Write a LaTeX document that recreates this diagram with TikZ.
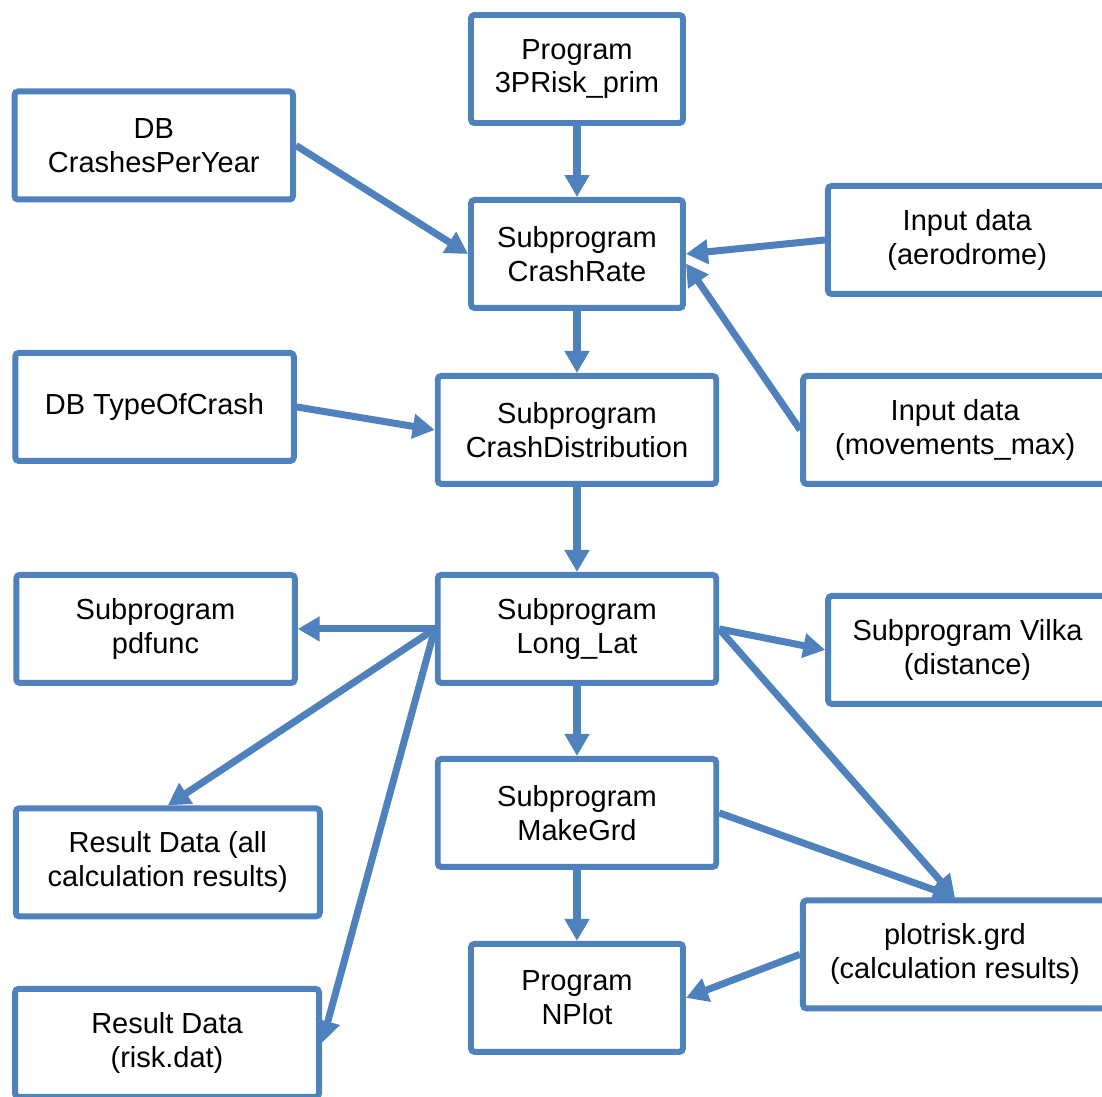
\documentclass[tikz,border=0pt]{standalone}
\usepackage{fontspec}
\setmainfont{Liberation Sans}
\usetikzlibrary{positioning, arrows.meta}
\definecolor{boxblue}{HTML}{4F81BD}

\begin{document}
\begin{tikzpicture}[
        node distance=1.4cm,
        font=\fontsize{16.5}{19.3}\selectfont,
        block/.style={rectangle, draw=boxblue, line width=3.4pt, rounded corners=2pt, fill=white, minimum width=4.24cm, minimum height=2.16cm, align=center},
        wide/.style={block, minimum width=5.57cm},
        wider/.style={block, minimum width=6.08cm},
        arrow/.style={-{Triangle[length=12.5pt, width=13.5pt]}, draw=boxblue, line width=4pt}
    ]

    \useasboundingbox (-11.54,1.38) rectangle (10.5,-20.56);
    \clip (-11.54,1.38) rectangle (10.5,-20.56);

    \node (prog3p) [block] at (0,0) {Program\\3PRisk\_prim};
    \node (crashrate) [block, below=1.42cm of prog3p] {Subprogram\\CrashRate};
    \node (crashdist) [wide, below=1.24cm of crashrate] {Subprogram\\CrashDistribution};
    \node (longlat) [wide, below=1.7cm of crashdist] {Subprogram\\Long\_Lat};
    \node (makegrd) [wide, below=1.4cm of longlat] {Subprogram\\MakeGrd};
    \node (nplot) [block, below=1.42cm of makegrd] {Program\\NPlot};

    \node (dbyear) [wide, left=3.44cm of crashrate, yshift=2.17cm] {DB\\CrashesPerYear};
    \node (aero) [wide, right=2.78cm of crashrate, yshift=0.28cm] {Input data\\(aerodrome)};
    \node (dbtype) [wide, left=2.76cm of crashdist, yshift=0.46cm] {DB TypeOfCrash};
    \node (movmax) [wider, right=1.62cm of crashdist] {Input data\\(movements\_max)};
    \node (pdfunc) [wide, left=2.74cm of longlat] {Subprogram\\pdfunc};
    \node (vilka) [wide, right=2.12cm of longlat, yshift=-0.42cm] {Subprogram Vilka\\(distance)};
    \node (resall) [wider, left=2.24cm of makegrd, yshift=-0.99cm] {Result Data (all\\calculation results)};
    \node (plotrisk) [wider, right=2.28cm of nplot, yshift=0.87cm] {plotrisk.grd\\(calculation results)};
    \node (resrisk) [wider, left=2.92cm of nplot, yshift=-0.9cm] {Result Data\\(risk.dat)};

    \draw [arrow] (prog3p) -- (crashrate);
    \draw [arrow] (dbyear.east) -- (crashrate.west);
    \draw [arrow] (aero.west) -- (crashrate.east);
    \draw [arrow] (movmax.west) -- (crashrate.-5);
    \draw [arrow] (crashrate) -- (crashdist);
    \draw [arrow] (dbtype.east) -- (crashdist.west);
    \draw [arrow] (crashdist) -- (longlat);

    \draw [arrow] (longlat.west) -- (pdfunc.east);
    \draw [arrow] (longlat.west) -- (resall.north);
    \draw [arrow] (longlat.west) -- (resrisk.east);
    \draw [arrow] (longlat.east) -- (vilka.west);
    \draw [arrow] (longlat.east) -- (plotrisk.north);
    \draw [arrow] (longlat) -- (makegrd);
    \draw [arrow] (makegrd.east) -- (plotrisk.north);
    \draw [arrow] (makegrd) -- (nplot);
    \draw [arrow] (plotrisk.west) -- (nplot.east);

\end{tikzpicture}
\end{document}
